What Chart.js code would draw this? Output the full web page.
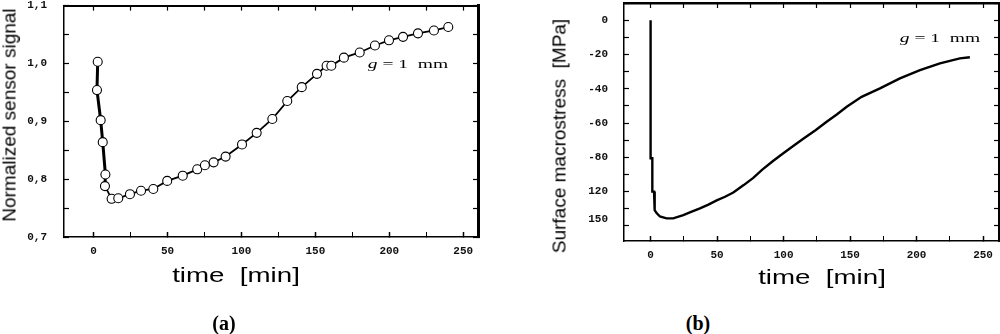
<!DOCTYPE html>
<html>
<head>
<meta charset="utf-8">
<script src="https://cdn.jsdelivr.net/npm/chart.js@4"></script>
<style>
  html, body { margin: 0; padding: 0; background: #fff; }
  #page { position: relative; width: 1000px; height: 334px; overflow: hidden; background: #fff; }
  .box { position: absolute; top: 0; width: 500px; height: 300px; }
  .txt { position: absolute; white-space: pre; line-height: 1; color: #000; }
  .sans { font-family: "Liberation Sans", Arial, sans-serif; }
  .serif { font-family: "Liberation Serif", "Times New Roman", serif; }
</style>
</head>
<body>
<div id="page">
  <div class="box" style="left:0"><canvas id="chartA" width="500" height="300"></canvas></div>
  <div class="box" style="left:500px"><canvas id="chartB" width="500" height="300"></canvas></div>

  <!-- axis titles and notes -->
  <div class="txt sans" style="left:9px;top:115px;font-size:19px;transform:translate(-50%,-50%) rotate(-90deg)">Normalized sensor signal</div>
  <div class="txt sans" style="left:236px;top:276px;font-size:19.5px;transform:translate(-50%,-50%) scaleX(1.42)">time  [min]</div>
  <div class="txt serif" style="left:408px;top:63px;font-size:13px;transform:translate(-50%,-50%) scaleX(1.5)"><i>g</i> = 1  mm</div>
  <div class="txt serif" style="left:224px;top:323px;font-size:20px;font-weight:bold;transform:translate(-50%,-50%)">(a)</div>

  <div class="txt sans" style="left:559px;top:136px;font-size:19px;transform:translate(-50%,-50%) rotate(-90deg)">Surface macrostress  [MPa]</div>
  <div class="txt sans" style="left:822px;top:278px;font-size:19.5px;transform:translate(-50%,-50%) scaleX(1.42)">time  [min]</div>
  <div class="txt serif" style="left:940px;top:37px;font-size:13px;transform:translate(-50%,-50%) scaleX(1.5)"><i>g</i> = 1  mm</div>
  <div class="txt serif" style="left:698px;top:323px;font-size:20px;font-weight:bold;transform:translate(-50%,-50%)">(b)</div>
</div>

<script>
// ------------------ Data ------------------
// (a) normalized sensor signal vs time
const sensorTime = [2.8, 2.3, 4.8, 6.2, 8.0, 7.7, 12.2, 16.7, 24.6, 32.1, 40.4, 49.8, 60.3, 70.1, 75.3, 81.2,
                    89.3, 100.4, 110.3, 120.9, 131.0, 140.8, 151.1, 157.6, 160.8, 169.3, 180.0, 190.3, 199.8,
                    209.3, 219.4, 230.2, 239.9];
const sensorSignal = [1.003, 0.954, 0.902, 0.864, 0.808, 0.788, 0.766, 0.767, 0.774, 0.780, 0.783, 0.797, 0.806,
                      0.817, 0.824, 0.829, 0.839, 0.860, 0.880, 0.904, 0.935, 0.959, 0.982, 0.996, 0.996, 1.010,
                      1.019, 1.031, 1.040, 1.046, 1.052, 1.057, 1.063];

// (b) surface macrostress vs time
const stressTime = [0, 0, 1.3, 1.3, 2.6, 2.6, 3.3, 3.3, 4.5, 7, 12, 17, 24.6, 30, 37.1, 43.5, 49.7, 56, 62.2, 70,
                    77.2, 84, 92.3, 99.8, 107, 114.8, 124, 132.4, 140, 147.5, 158.7, 172.5, 187.5, 202.6, 217.6,
                    232.6, 240.1];
const stressValue = [0, -80.5, -80.5, -100, -100, -105, -105, -110.8, -112.5, -114.5, -115.6, -115.6, -113.7, -112,
                     -109.8, -107.6, -105.1, -103, -100.5, -96.2, -92, -87.2, -82, -77.6, -73.6, -69.2, -64.2,
                     -59.3, -55, -50.5, -44.7, -39.8, -34, -29.2, -25.2, -22.3, -21.6];

// tick values / labels
const timeTickValues = [0, 25, 50, 75, 100, 125, 150, 175, 200, 225, 250];
const timeTickLabels = ['0', '', '50', '', '100', '', '150', '', '200', '', '250'];
const signalTickValues = [0.7, 0.75, 0.8, 0.85, 0.9, 0.95, 1.0, 1.05, 1.1];
const signalTickLabels = ['0,7', '', '0,8', '', '0,9', '', '1,0', '', '1,1'];
const stressTickValues = [10, 0, -10, -20, -30, -40, -50, -60, -70, -80, -90, -100, -110, -116, -120];
const stressTickLabels = ['', '0', '', '-20', '', '-40', '', '-60', '', '-80', '', '120', '', '150', ''];
const stressLabelOnly = [-116]; // label printed off a tick in the original

// ------------------ Helpers ------------------
const tickFont = { family: 'Liberation Mono', size: 11, weight: 'bold' };

function setTicks(values) {
    return scale => { scale.ticks = values.map(v => ({ value: v })); };
}

// fixed axis sizes so plot areas land where they do in the picture
function fixSize(prop, size) {
    return scale => {
        scale[prop] = size;
        scale.paddingTop = 0; scale.paddingBottom = 0;
        scale.paddingLeft = 0; scale.paddingRight = 0;
    };
}

function frameAxis(position, min, max, values, bw, size) {
    return {
        type: 'linear', position, min, max,
        afterBuildTicks: setTicks(values),
        afterFit: fixSize(position === 'top' ? 'height' : 'width', size),
        ticks: { display: false },
        grid: { drawOnChartArea: false, drawTicks: true, tickLength: -5, tickColor: '#000', tickWidth: 1.2 },
        border: { display: true, color: '#000', width: bw }
    };
}

// ------------------ Chart (a) ------------------
new Chart(document.getElementById('chartA'), {
    type: 'scatter',
    data: {
        datasets: [{
            data: sensorTime.map((t, i) => ({ x: t, y: sensorSignal[i] })),
            showLine: true,
            borderColor: '#000',
            borderWidth: 1.8,
            segment: {
                borderWidth: c => (c.p1.parsed.x <= 8.5 && c.p0.parsed.x <= 8.5) ? 3 : 1.8
            },
            pointRadius: 4.5,
            pointBorderWidth: 1.1,
            pointBackgroundColor: '#fff',
            pointBorderColor: '#000'
        }]
    },
    options: {
        responsive: false,
        animation: false,
        layout: { padding: { top: 4, right: 22, left: 0, bottom: 0 } },
        plugins: { legend: { display: false }, tooltip: { enabled: false } },
        scales: {
            x: {
                type: 'linear', position: 'bottom', min: -20, max: 260,
                afterBuildTicks: setTicks(timeTickValues),
                afterFit: fixSize('height', 63),
                ticks: { autoSkip: false, maxRotation: 0, padding: 13, color: '#111', font: tickFont,
                         callback: (v, i) => timeTickLabels[i] },
                grid: { drawOnChartArea: false, tickLength: -5, tickColor: '#000',
                        tickWidth: c => (timeTickLabels[c.index] ? 1.5 : 1) },
                border: { display: true, color: '#000', width: 1.5 }
            },
            y: {
                type: 'linear', position: 'left', min: 0.7, max: 1.1,
                afterBuildTicks: setTicks(signalTickValues),
                afterFit: fixSize('width', 64),
                ticks: { autoSkip: false, padding: 22, color: '#111', font: tickFont,
                         callback: (v, i) => signalTickLabels[i] },
                grid: { drawOnChartArea: false, tickLength: -5, tickColor: '#000', tickWidth: 1.2 },
                border: { display: true, color: '#000', width: 1.5 }
            },
            x2: frameAxis('top', -20, 260, timeTickValues, 2, 0),
            y2: frameAxis('right', 0.7, 1.1, signalTickValues, 3, 0)
        }
    }
});

// ------------------ Chart (b) ------------------
new Chart(document.getElementById('chartB'), {
    type: 'scatter',
    data: {
        datasets: [{
            data: stressTime.map((t, i) => ({ x: t, y: stressValue[i] })),
            showLine: true,
            borderColor: '#000',
            borderWidth: 2.4,
            pointRadius: 0,
            tension: 0
        }]
    },
    options: {
        responsive: false,
        animation: false,
        layout: { padding: { top: 3, right: 1, left: 0, bottom: 0 } },
        plugins: { legend: { display: false }, tooltip: { enabled: false } },
        scales: {
            x: {
                type: 'linear', position: 'bottom', min: -20, max: 262,
                afterBuildTicks: setTicks(timeTickValues),
                afterFit: fixSize('height', 59),
                ticks: { autoSkip: false, maxRotation: 0, padding: 13, color: '#111', font: tickFont,
                         callback: (v, i) => timeTickLabels[i] },
                grid: { drawOnChartArea: false, tickLength: -5, tickColor: '#000',
                        tickWidth: c => (timeTickLabels[c.index] ? 1.5 : 1) },
                border: { display: true, color: '#000', width: 1.5 }
            },
            y: {
                type: 'linear', position: 'left', min: -128.8, max: 10,
                afterBuildTicks: setTicks(stressTickValues),
                afterFit: fixSize('width', 124),
                ticks: { autoSkip: false, padding: 21, color: '#111', font: tickFont,
                         callback: (v, i) => stressTickLabels[i] },
                grid: { drawOnChartArea: false, tickLength: -5, tickWidth: 1.2,
                        tickColor: c => (stressLabelOnly.includes(c.tick.value) ? 'rgba(0,0,0,0)' : '#000') },
                border: { display: true, color: '#000', width: 1.5 }
            },
            x2: frameAxis('top', -20, 262, timeTickValues, 2.5, 0),
            y2: frameAxis('right', -128.8, 10, stressTickValues.filter(v => !stressLabelOnly.includes(v)), 2.5, 0)
        }
    }
});
</script>
</body>
</html>
